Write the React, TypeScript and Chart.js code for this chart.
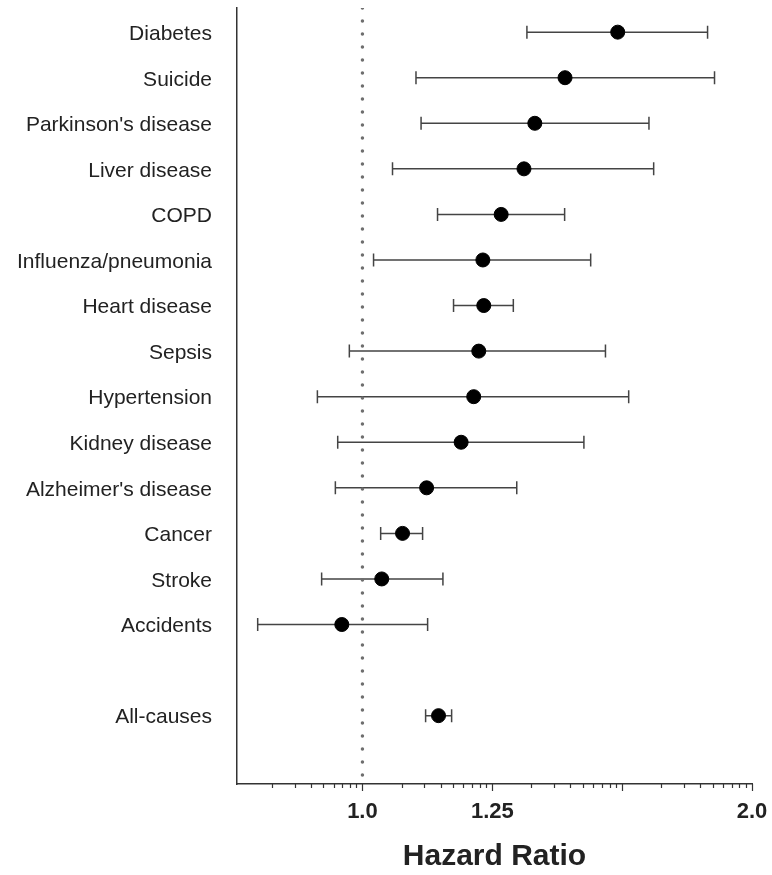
import React, { useEffect, useRef } from "react";
import { Chart, registerables } from "chart.js";

Chart.register(...registerables);

const categories = [
  "Diabetes",
  "Suicide",
  "Parkinson's disease",
  "Liver disease",
  "COPD",
  "Influenza/pneumonia",
  "Heart disease",
  "Sepsis",
  "Hypertension",
  "Kidney disease",
  "Alzheimer's disease",
  "Cancer",
  "Stroke",
  "Accidents",
  "",
  "All-causes",
];
const hazardRatio: (number | null)[] = [1.575, 1.434, 1.359, 1.333, 1.28, 1.239, 1.241, 1.23, 1.219, 1.192, 1.121, 1.074, 1.035, 0.964, null, 1.145];
const lowerCI: (number | null)[] = [1.34, 1.1, 1.11, 1.055, 1.143, 1.02, 1.176, 0.977, 0.923, 0.957, 0.953, 1.033, 0.93, 0.83, null, 1.119];
const upperCI: (number | null)[] = [1.848, 1.871, 1.665, 1.679, 1.433, 1.501, 1.308, 1.541, 1.606, 1.483, 1.316, 1.113, 1.154, 1.123, null, 1.172];

const xMajorTicks = [1.0, 1.26, 1.587, 2.0];
const xTickLabels = ["1.0", "1.25", "", "2.0"];
const xMin = 0.8;
const xMax = 2.0;
const referenceHR = 1.0;

const TEXT = "#222";
const AXIS = "#333";

export default function App() {
  const ref = useRef<HTMLCanvasElement>(null);

  useEffect(() => {
    const canvas = ref.current;
    if (!canvas) return;

    const points = hazardRatio
      .map((v, i) => (v == null ? null : { x: v, y: i }))
      .filter((p) => p !== null) as { x: number; y: number }[];

    const ratio = Math.pow(2, 1 / 3);
    const minorValues: number[] = [];
    [1 / ratio, 1, ratio, ratio * ratio].forEach((b) => {
      for (let k = 2; k <= 9; k++) {
        const v = b * Math.pow(ratio, Math.log10(k));
        if (v >= xMin && v <= xMax) minorValues.push(v);
      }
    });

    const errorBars = {
      id: "errorBars",
      beforeDatasetsDraw(chart: any) {
        const { ctx, scales } = chart;
        const xs = scales.x;
        const ys = scales.y;
        ctx.save();
        ctx.strokeStyle = "#444";
        ctx.lineWidth = 1.5;
        for (let i = 0; i < categories.length; i++) {
          const lo = lowerCI[i];
          const hi = upperCI[i];
          if (lo == null || hi == null) continue;
          const py = ys.getPixelForValue(i);
          const x1 = xs.getPixelForValue(lo);
          const x2 = xs.getPixelForValue(hi);
          ctx.beginPath();
          ctx.moveTo(x1, py);
          ctx.lineTo(x2, py);
          ctx.moveTo(x1, py - 6.5);
          ctx.lineTo(x1, py + 6.5);
          ctx.moveTo(x2, py - 6.5);
          ctx.lineTo(x2, py + 6.5);
          ctx.stroke();
        }
        ctx.restore();
      },
    };

    const axisTicks = {
      id: "axisTicks",
      afterDraw(chart: any) {
        const { ctx, scales } = chart;
        const xs = scales.x;
        const y0 = xs.top;
        ctx.save();
        ctx.strokeStyle = AXIS;
        ctx.lineWidth = 1.2;
        ctx.beginPath();
        xMajorTicks.forEach((v) => {
          const px = Math.round(xs.getPixelForValue(v)) + 0.5;
          ctx.moveTo(px, y0);
          ctx.lineTo(px, y0 + 7);
        });
        minorValues.forEach((v) => {
          const px = Math.round(xs.getPixelForValue(v)) + 0.5;
          ctx.moveTo(px, y0);
          ctx.lineTo(px, y0 + 4);
        });
        ctx.stroke();
        ctx.restore();
      },
    };

    const zeroPad = (scale: any) => {
      scale.paddingTop = 0;
      scale.paddingBottom = 0;
      scale.paddingLeft = 0;
      scale.paddingRight = 0;
    };

    const chart = new Chart(canvas, {
      type: "scatter",
      data: {
        datasets: [
          {
            label: "Hazard ratio",
            data: points,
            backgroundColor: "#000",
            borderColor: "#000",
            pointRadius: 7,
            pointHoverRadius: 7,
            order: 0,
          } as any,
          {
            type: "line",
            label: "Reference",
            data: [
              { x: referenceHR, y: -0.53 },
              { x: referenceHR, y: 16.5 },
            ],
            borderColor: "#6e6e6e",
            borderWidth: 3.5,
            borderDash: [0, 13],
            borderCapStyle: "round",
            pointRadius: 0,
            showLine: true,
            order: 1,
          } as any,
        ],
      },
      options: {
        responsive: false,
        animation: false,
        events: [],
        layout: { padding: { top: 8, right: 20, left: 0, bottom: 0 } },
        plugins: {
          legend: { display: false },
          tooltip: { enabled: false },
        },
        scales: {
          x: {
            type: "logarithmic",
            position: "bottom",
            min: xMin,
            max: xMax,
            afterBuildTicks: (scale: any) => {
              scale.ticks = xMajorTicks.map((v) => ({ value: v }));
            },
            afterFit: (scale: any) => {
              scale.height = 91;
              zeroPad(scale);
            },
            grid: { display: false, drawTicks: false },
            border: { display: true, color: AXIS, width: 1.5 },
            ticks: {
              autoSkip: false,
              maxRotation: 0,
              padding: 15,
              color: TEXT,
              font: {
                family: "'Liberation Sans', Arial, sans-serif",
                weight: "bold",
                size: 22,
              },
              callback: (_v: any, index: number) => xTickLabels[index] ?? "",
            },
            title: {
              display: true,
              text: "Hazard Ratio",
              color: TEXT,
              padding: { top: 0, bottom: 0 },
              font: { family: "'Liberation Sans', Arial, sans-serif", weight: "bold", size: 30 },
            },
          } as any,
          y: {
            type: "linear",
            reverse: true,
            min: -0.53,
            max: 16.5,
            afterBuildTicks: (scale: any) => {
              scale.ticks = categories
                .map((c, i) => ({ value: i, label: c }))
                .filter((t) => t.label !== "")
                .map((t) => ({ value: t.value }));
            },
            afterFit: (scale: any) => {
              scale.width = 237;
              zeroPad(scale);
            },
            grid: { display: false, drawTicks: false },
            border: { display: true, color: AXIS, width: 1.5 },
            ticks: {
              autoSkip: false,
              padding: 25,
              labelOffset: 2,
              color: TEXT,
              font: { family: "'Liberation Sans', Arial, sans-serif", size: 21 },
              callback: (v: any) => categories[Math.round(Number(v))] ?? "",
            },
          } as any,
        },
      },
      plugins: [errorBars, axisTicks],
    });

    return () => chart.destroy();
  }, []);

  return (
    <div style={{ position: "fixed", left: 0, top: 0, width: 772, height: 875, background: "#fff" }}>
      <canvas ref={ref} width={772} height={875} style={{ display: "block" }} />
    </div>
  );
}
